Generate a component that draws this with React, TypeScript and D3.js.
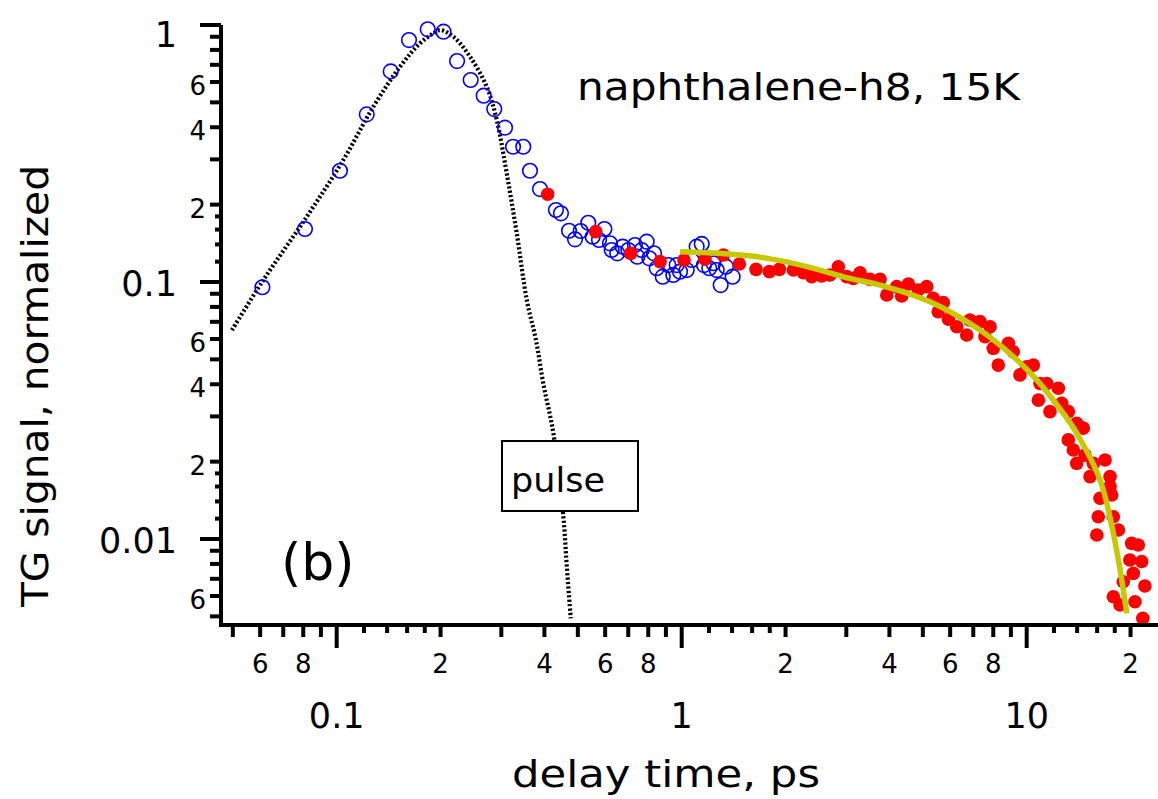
import React from "react";
import * as d3 from "d3";

// ---- data ----
const blueT = [0.0609, 0.0809, 0.1022, 0.1222, 0.1434, 0.162, 0.1836, 0.204, 0.2233, 0.2445, 0.2667, 0.2862, 0.3075, 0.3244, 0.3474, 0.3633, 0.3884, 0.432, 0.4467, 0.4714, 0.4906, 0.5095, 0.536, 0.552, 0.5759, 0.5968, 0.6196, 0.6266, 0.6505, 0.6745, 0.7002, 0.732, 0.7435, 0.7656, 0.7916, 0.8056, 0.8312, 0.8464, 0.881, 0.9144, 0.9456, 0.9672, 0.9888, 1.034, 1.069, 1.105, 1.143, 1.16, 1.202, 1.235, 1.263, 1.297, 1.344, 1.405];
const blueS = [0.0954, 0.1608, 0.271, 0.449, 0.66, 0.874, 0.962, 0.942, 0.724, 0.611, 0.531, 0.471, 0.3985, 0.336, 0.336, 0.271, 0.23, 0.1906, 0.185, 0.1583, 0.1466, 0.1579, 0.17, 0.15, 0.1457, 0.1608, 0.1414, 0.1332, 0.1293, 0.1372, 0.1332, 0.1393, 0.1255, 0.1332, 0.1435, 0.1236, 0.1293, 0.1131, 0.1049, 0.1164, 0.1065, 0.1164, 0.1097, 0.1113, 0.1218, 0.1372, 0.1406, 0.1164, 0.1131, 0.1183, 0.1113, 0.0973, 0.1147, 0.1049];

const redT = [0.4088, 0.5633, 0.7114, 0.8653, 1.0155, 1.168, 1.32, 1.469, 1.642, 1.795, 1.919, 2.107, 2.252, 2.381, 2.546, 2.69, 2.844, 3.007, 3.142, 3.288, 3.513, 3.757, 3.93, 4.2, 4.34, 4.54, 4.85, 5.13, 5.36, 5.54, 5.73, 5.93, 6.27, 6.7, 6.85, 7.32, 7.57, 7.83, 8.0, 8.27, 8.85, 9.14, 9.56, 10.0, 10.45, 10.81, 10.93, 11.43, 11.68, 12.35, 12.63, 13.2, 13.2, 13.65, 13.96, 13.96, 14.59, 14.76, 15.26, 15.6, 15.96, 16.12, 16.31, 16.87, 17.44, 17.44, 17.63, 17.83, 17.83, 18.44, 18.64, 19.05, 19.9, 20.15, 20.37, 20.6, 21.06, 21.54, 21.7, 22.0];
const redS = [0.2194, 0.157, 0.1293, 0.12, 0.1218, 0.1226, 0.1274, 0.1175, 0.112, 0.1097, 0.112, 0.1113, 0.1087, 0.1049, 0.1055, 0.1065, 0.1147, 0.1049, 0.1033, 0.1087, 0.1024, 0.1024, 0.089, 0.0959, 0.0882, 0.0982, 0.0931, 0.0959, 0.0864, 0.0766, 0.0831, 0.0716, 0.067, 0.0622, 0.0711, 0.0701, 0.0613, 0.067, 0.0552, 0.0475, 0.0577, 0.0535, 0.0435, 0.0468, 0.0475, 0.0347, 0.0403, 0.0403, 0.0313, 0.0386, 0.0337, 0.0313, 0.0243, 0.0222, 0.0282, 0.0197, 0.027, 0.0212, 0.01748, 0.0197, 0.01037, 0.0122, 0.0144, 0.0203, 0.01748, 0.016, 0.01483, 0.0122, 0.00596, 0.01084, 0.00554, 0.00682, 0.00828, 0.00962, 0.00735, 0.0057, 0.00948, 0.00817, 0.00491, 0.00656];

const fitT = [0.989, 1.2, 1.596, 2.0, 2.518, 3.0, 3.757, 5.245, 7.32, 9.15, 10.69, 12.77, 13.96, 16.31, 17.83, 18.86, 19.5];
const fitS = [0.1312, 0.13, 0.1262, 0.12, 0.1113, 0.104, 0.0973, 0.0838, 0.065, 0.0512, 0.0416, 0.0308, 0.0258, 0.01698, 0.01052, 0.00693, 0.00514];

const pulseT = [0.0497, 0.0613, 0.0819, 0.1045, 0.1277, 0.1526, 0.1743, 0.1905, 0.1995, 0.2178, 0.2434, 0.2722, 0.291, 0.311, 0.3326, 0.3556, 0.378, 0.397, 0.4246, 0.4539, 0.4645, 0.4769];
const pulseS = [0.065, 0.1018, 0.1795, 0.2983, 0.481, 0.688, 0.8485, 0.928, 0.956, 0.901, 0.753, 0.575, 0.427, 0.265, 0.1547, 0.0851, 0.0595, 0.0403, 0.0258, 0.01221, 0.0078, 0.00491];

const xMajorLabels = ["0.1", "1", "10"];
const xMajorValues = [0.1, 1, 10];
const xMinorLabelValues = [0.06, 0.08, 0.2, 0.4, 0.6, 0.8, 2, 4, 6, 8, 20];
const yMajorLabels = ["1", "0.1", "0.01"];
const yMajorValues = [1, 0.1, 0.01];
const yMinorLabelValues = [0.6, 0.4, 0.2, 0.06, 0.04, 0.02, 0.006];

const FONT = "DejaVu Sans";

function tickSets(lo: number, hi: number) {
  const major: number[] = [];
  const medium: number[] = [];
  const small: number[] = [];
  for (let e = -4; e <= 3; e++) {
    const p = Math.pow(10, e);
    const m = +(1 * p).toPrecision(6);
    if (m >= lo && m <= hi) major.push(m);
    for (const d of [2, 3, 4, 5, 6, 7, 8, 9]) {
      const v = +(d * p).toPrecision(6);
      if (v >= lo && v <= hi) medium.push(v);
    }
    for (const d of [1.2, 1.4, 1.6, 1.8]) {
      const v = +(d * p).toPrecision(6);
      if (v >= lo && v <= hi) small.push(v);
    }
  }
  return { major, medium, small };
}

export default function App() {
  const W = 1158, H = 799;
  const x = d3.scaleLog().domain([0.1, 10]).range([336.7, 1026.7]);
  const y = d3.scaleLog().domain([1, 0.01]).range([25, 539]);
  const axX = 221; // y-axis x position
  const axY = 625; // x-axis y position

  const xt = tickSets(0.049, 21);
  const yt = tickSets(0.0049, 1.0);

  const line = d3.line<[number, number]>()
    .x((d) => x(d[0]))
    .y((d) => y(d[1]))
    .curve(d3.curveCatmullRom.alpha(0.5));

  const pulsePath = line(pulseT.map((t, i) => [t, pulseS[i]] as [number, number])) || "";
  const fitPath = line(fitT.map((t, i) => [t, fitS[i]] as [number, number])) || "";

  const minorLabel = (v: number) => String(+(v / Math.pow(10, Math.floor(Math.log10(v) + 1e-9))).toFixed(0));

  return (
    <svg width={W} height={H} style={{ position: "absolute", left: 0, top: 0, background: "#fff" }} fontFamily={FONT}>
      <rect x={0} y={0} width={W} height={H} fill="#fff" />
      {/* pulse curve */}
      <path d={pulsePath} fill="none" stroke="#000" strokeWidth={4.2} strokeDasharray="2.2,2.2" />
      {/* pulse label box */}
      <rect x={502} y={441} width={136} height={70} fill="#fff" stroke="#000" strokeWidth={2} />
      <text x={511} y={492} fontSize={33} fill="#000" textLength={94} lengthAdjust="spacingAndGlyphs">pulse</text>

      {/* blue open circles */}
      {blueT.map((t, i) => (
        <circle key={"b" + i} cx={x(t)} cy={y(blueS[i])} r={7.3} fill="none" stroke="#0000ff" strokeWidth={1.6} />
      ))}
      {/* red filled circles */}
      {redT.map((t, i) => (
        <circle key={"r" + i} cx={x(t)} cy={y(redS[i])} r={6.8} fill="#ff0000" />
      ))}
      {/* fit line */}
      <path d={fitPath} fill="none" stroke="#c8c800" strokeWidth={5.5} />

      {/* axes lines */}
      <line x1={axX} y1={y(1)} x2={axX} y2={axY + 2} stroke="#000" strokeWidth={4} />
      <line x1={axX - 2} y1={axY} x2={W} y2={axY} stroke="#000" strokeWidth={4} />

      {/* x ticks */}
      {xt.major.map((v) => <line key={"xM" + v} x1={x(v)} x2={x(v)} y1={axY} y2={648} stroke="#000" strokeWidth={4} />)}
      {xt.medium.map((v) => <line key={"xm" + v} x1={x(v)} x2={x(v)} y1={axY} y2={637} stroke="#000" strokeWidth={4} />)}
      {xt.small.map((v) => <line key={"xs" + v} x1={x(v)} x2={x(v)} y1={axY} y2={633} stroke="#000" strokeWidth={4} />)}

      {/* y ticks */}
      {yt.major.map((v) => <line key={"yM" + v} x1={200} x2={axX} y1={y(v)} y2={y(v)} stroke="#000" strokeWidth={4} />)}
      {yt.medium.map((v) => <line key={"ym" + v} x1={210} x2={axX} y1={y(v)} y2={y(v)} stroke="#000" strokeWidth={4} />)}
      {yt.small.map((v) => <line key={"ys" + v} x1={215} x2={axX} y1={y(v)} y2={y(v)} stroke="#000" strokeWidth={4} />)}

      {/* x tick labels */}
      {xMinorLabelValues.map((v) => (
        <text key={"xl" + v} x={x(v)} y={673} fontSize={26} textAnchor="middle" fill="#000">{minorLabel(v)}</text>
      ))}
      {xMajorValues.map((v, i) => (
        <text key={"xL" + v} x={x(v)} y={728} fontSize={35} textAnchor="middle" fill="#000">{xMajorLabels[i]}</text>
      ))}

      {/* y tick labels */}
      {yMinorLabelValues.map((v) => (
        <text key={"yl" + v} x={206} y={y(v) + 13} fontSize={26} textAnchor="end" fill="#000">{minorLabel(v)}</text>
      ))}
      {yMajorValues.map((v, i) => (
        <text key={"yL" + v} x={177} y={(i === 0 ? y(v) + 8 : y(v)) + 14} fontSize={35} textAnchor="end" fill="#000">{yMajorLabels[i]}</text>
      ))}

      {/* titles */}
      <text x={666} y={787} fontSize={38} textAnchor="middle" fill="#000" textLength={308} lengthAdjust="spacingAndGlyphs">delay time, ps</text>
      <text transform="translate(48,386) rotate(-90)" fontSize={38} textAnchor="middle" fill="#000" textLength={442} lengthAdjust="spacingAndGlyphs">TG signal, normalized</text>
      <text x={577} y={100} fontSize={38} fill="#000" textLength={443} lengthAdjust="spacingAndGlyphs">naphthalene-h8, 15K</text>
      <text x={281} y={580} fontSize={52} fill="#000">(b)</text>
    </svg>
  );
}
